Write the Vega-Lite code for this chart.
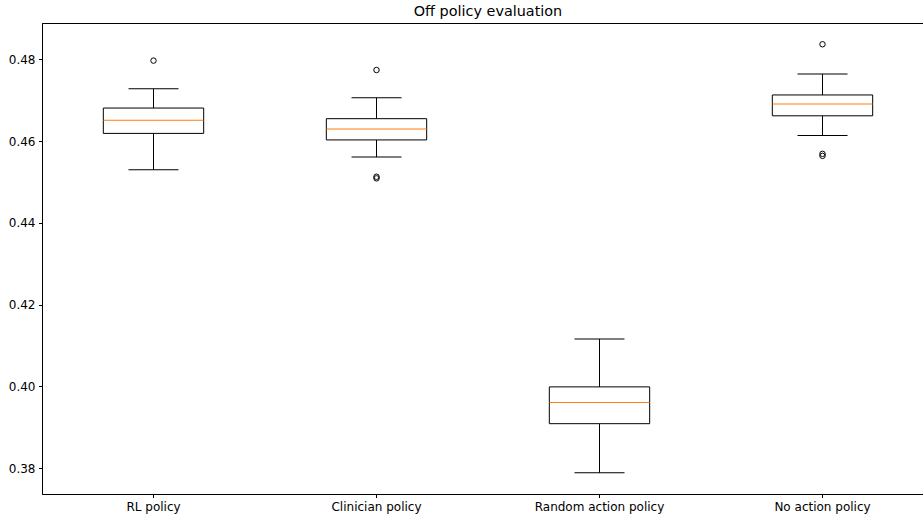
{
  "$schema": "https://vega.github.io/schema/vega-lite/v6.json",
  "autosize": {"type": "none"},
  "padding": {"left": 42, "top": 23, "right": 0, "bottom": 21},
  "width": 892,
  "height": 471,
  "background": "white",
  "title": {"text": "Off policy evaluation", "fontSize": 14.4, "font": "DejaVu Sans", "fontWeight": "normal", "color": "black", "offset": 4},
  "config": {
    "view": {"stroke": "black", "strokeWidth": 1},
    "axis": {"labelFont": "DejaVu Sans", "labelFontSize": 12, "labelColor": "black", "domainColor": "black", "tickColor": "black", "tickSize": 3.5, "labelPadding": 3.5, "grid": false, "title": null, "domainWidth": 1, "tickWidth": 1}
  },
  "datasets": {
    "boxes": [
      {"policy": "RL policy", "lower": 0.4530, "q1": 0.4619, "median": 0.4651, "q3": 0.4681, "upper": 0.4728},
      {"policy": "Clinician policy", "lower": 0.4561, "q1": 0.4603, "median": 0.4630, "q3": 0.4655, "upper": 0.4706},
      {"policy": "Random action policy", "lower": 0.3789, "q1": 0.3909, "median": 0.3961, "q3": 0.3999, "upper": 0.4116},
      {"policy": "No action policy", "lower": 0.4614, "q1": 0.4662, "median": 0.4691, "q3": 0.4713, "upper": 0.4764}
    ],
    "outliers": [
      {"policy": "RL policy", "value": 0.4797},
      {"policy": "Clinician policy", "value": 0.4774},
      {"policy": "Clinician policy", "value": 0.4513},
      {"policy": "Clinician policy", "value": 0.4509},
      {"policy": "No action policy", "value": 0.4837},
      {"policy": "No action policy", "value": 0.4569},
      {"policy": "No action policy", "value": 0.4564}
    ]
  },
  "data": {"name": "boxes"},
  "encoding": {
    "x": {"field": "policy", "type": "nominal", "sort": ["RL policy", "Clinician policy", "Random action policy", "No action policy"],
          "scale": {"type": "band", "paddingInner": 0, "paddingOuter": 0},
          "axis": {"labelAngle": 0}}
  },
  "layer": [
    {"mark": {"type": "rule", "color": "black", "strokeWidth": 1},
     "encoding": {"y": {"field": "lower", "type": "quantitative", "scale": {"domain": [0.3737, 0.4889], "nice": false, "zero": false}, "axis": {"values": [0.38, 0.40, 0.42, 0.44, 0.46, 0.48], "format": ".2f"}}, "y2": {"field": "q1"}}},
    {"mark": {"type": "rule", "color": "black", "strokeWidth": 1},
     "encoding": {"y": {"field": "q3", "type": "quantitative"}, "y2": {"field": "upper"}}},
    {"mark": {"type": "bar", "fill": "white", "stroke": "black", "strokeWidth": 1, "width": {"band": 0.45}},
     "encoding": {"y": {"field": "q1", "type": "quantitative"}, "y2": {"field": "q3"}}},
    {"mark": {"type": "tick", "color": "#ff7f0e", "thickness": 1, "size": 100, "opacity": 1},
     "encoding": {"y": {"field": "median", "type": "quantitative"}}},
    {"mark": {"type": "tick", "color": "black", "thickness": 1, "size": 50, "opacity": 1},
     "encoding": {"y": {"field": "lower", "type": "quantitative"}}},
    {"mark": {"type": "tick", "color": "black", "thickness": 1, "size": 50, "opacity": 1},
     "encoding": {"y": {"field": "upper", "type": "quantitative"}}},
    {"data": {"name": "outliers"},
     "mark": {"type": "point", "shape": "circle", "filled": false, "stroke": "black", "strokeWidth": 1, "size": 30, "opacity": 1},
     "encoding": {"y": {"field": "value", "type": "quantitative"}}}
  ]
}
